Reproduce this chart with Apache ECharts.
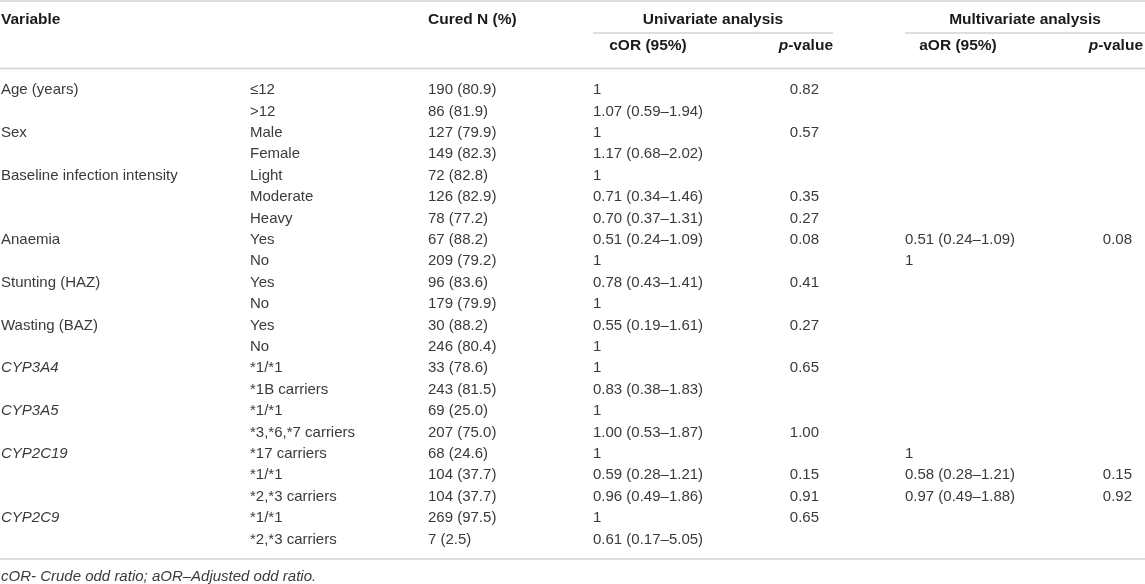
<!DOCTYPE html>
<html>
<head>
<meta charset="utf-8">
<script src="https://cdn.jsdelivr.net/npm/echarts@6/dist/echarts.min.js"></script>
<style>
html,body{margin:0;padding:0;background:#fff;}
#main{width:1145px;height:584px;}
</style>
</head>
<body>
<div id="main"></div>
<script>
// table columns, one entry per row
var variables=['Age (years)','','Sex','','Baseline infection intensity','','','Anaemia','','Stunting (HAZ)','','Wasting (BAZ)','','CYP3A4','','CYP3A5','','CYP2C19','','','CYP2C9',''];
var levels=['≤12','>12','Male','Female','Light','Moderate','Heavy','Yes','No','Yes','No','Yes','No','*1/*1','*1B carriers','*1/*1','*3,*6,*7 carriers','*17 carriers','*1/*1','*2,*3 carriers','*1/*1','*2,*3 carriers'];
var cured=['190 (80.9)','86 (81.9)','127 (79.9)','149 (82.3)','72 (82.8)','126 (82.9)','78 (77.2)','67 (88.2)','209 (79.2)','96 (83.6)','179 (79.9)','30 (88.2)','246 (80.4)','33 (78.6)','243 (81.5)','69 (25.0)','207 (75.0)','68 (24.6)','104 (37.7)','104 (37.7)','269 (97.5)','7 (2.5)'];
var cOR=['1','1.07 (0.59–1.94)','1','1.17 (0.68–2.02)','1','0.71 (0.34–1.46)','0.70 (0.37–1.31)','0.51 (0.24–1.09)','1','0.78 (0.43–1.41)','1','0.55 (0.19–1.61)','1','1','0.83 (0.38–1.83)','1','1.00 (0.53–1.87)','1','0.59 (0.28–1.21)','0.96 (0.49–1.86)','1','0.61 (0.17–5.05)'];
var pUni=['0.82','','0.57','','','0.35','0.27','0.08','','0.41','','0.27','','0.65','','','1.00','','0.15','0.91','0.65',''];
var aOR=['','','','','','','','0.51 (0.24–1.09)','1','','','','','','','','','1','0.58 (0.28–1.21)','0.97 (0.49–1.88)','',''];
var pMulti=['','','','','','','','0.08','','','','','','','','','','','0.15','0.92','',''];
var footnote='cOR- Crude odd ratio; aOR–Adjusted odd ratio.';

var FONT='"Liberation Sans", Arial, sans-serif';
var TXT='#3a3a3a';
var HEAD='#1a1a1a';
var RULE='#d2d2d2';

// column anchors (x in px) and alignment
var columns=[
	{values:variables,x:1,align:'left'},
	{values:levels,x:250,align:'left'},
	{values:cured,x:428,align:'left'},
	{values:cOR,x:593,align:'left'},
	{values:pUni,x:819,align:'right'},
	{values:aOR,x:905,align:'left'},
	{values:pMulti,x:1132,align:'right'}
];

var rowIds=levels.map(function(v,i){return String(i);});

function cellSeries(col){
	return {
		type:'custom',
		coordinateSystem:'cartesian2d',
		encode:{x:0,y:1},
		silent:true,
		data:col.values.map(function(v,i){return [col.x,i];}),
		renderItem:function(params,api){
			var txt=col.values[params.dataIndex];
			if(!txt){return null;}
			var p=api.coord([api.value(0),api.value(1)]);
			return {
				type:'text',
				style:{
					text:txt,
					x:p[0],y:p[1],
					fill:TXT,
					font:(/^CYP/.test(txt)?'italic ':'')+'15px '+FONT,
					align:col.align,textAlign:col.align,
					verticalAlign:'middle',textVerticalAlign:'middle'
				}
			};
		}
	};
}

function headText(txt,x,y,align){
	return {
		type:'text',
		style:{
			text:txt,x:x,y:y,
			fill:HEAD,
			font:'bold 15.5px '+FONT,
			align:align,textAlign:align,
			verticalAlign:'middle',textVerticalAlign:'middle',
			rich:{i:{fontStyle:'italic',fontWeight:'bold',fontSize:15.5,fontFamily:FONT,fill:HEAD}}
		}
	};
}
function rule(x1,x2,y){
	return {type:'line',shape:{x1:x1,y1:y,x2:x2,y2:y},style:{stroke:RULE,lineWidth:1.6}};
}

var chart=echarts.init(document.getElementById('main'));
chart.setOption({
	animation:false,
	grid:{left:0,right:0,top:79.3,bottom:33.9},
	xAxis:{type:'value',min:0,max:1145,show:false},
	yAxis:{type:'category',data:rowIds,inverse:true,show:false,boundaryGap:true},
	graphic:[
		rule(0,1145,1),
		rule(593,833,33),
		rule(905,1145,33),
		rule(0,1145,68.5),
		rule(0,1145,559),
		headText('Variable',1,20,'left'),
		headText('Cured N (%)',428,20,'left'),
		headText('Univariate analysis',713,20,'center'),
		headText('Multivariate analysis',1025,20,'center'),
		headText('cOR (95%)',648,46,'center'),
		headText('{i|p}-value',833,46,'right'),
		headText('aOR (95%)',958,46,'center'),
		headText('{i|p}-value',1143,46,'right'),
		{type:'text',style:{text:footnote,x:1,y:577,fill:TXT,font:'italic 15px '+FONT,align:'left',textAlign:'left',verticalAlign:'middle',textVerticalAlign:'middle'}}
	],
	series:columns.map(cellSeries)
});
</script>
</body>
</html>
